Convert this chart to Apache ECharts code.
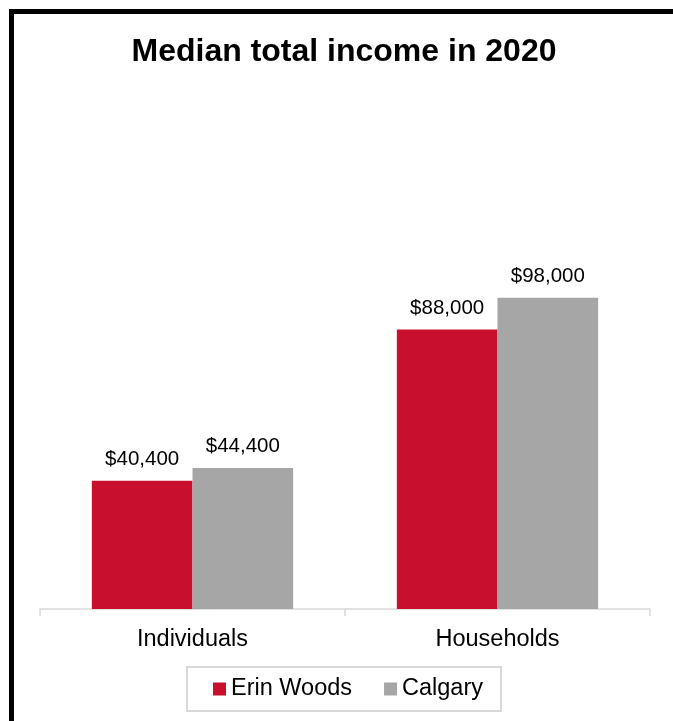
<!DOCTYPE html>
<html>
<head>
<meta charset="utf-8">
<script src="https://cdn.jsdelivr.net/npm/echarts@6/dist/echarts.min.js"></script>
<style>
html,body{margin:0;padding:0;background:#fff;}
#chart{width:673px;height:721px;}
</style>
</head>
<body>
<div id="chart"></div>
<script>
const categories = ['Individuals', 'Households'];
const seriesNames = ['Erin Woods', 'Calgary'];
const erinWoods = [40400, 88000];
const calgary = [44400, 98000];
const titleText = 'Median total income in 2020';

const FONT = '"Liberation Sans", Arial, sans-serif';
const fmt = v => '$' + v.toString().replace(/\B(?=(\d{3})+(?!\d))/g, ',');

const chart = echarts.init(document.getElementById('chart'), null, {renderer: 'canvas'});
const labelCfg = {
  show: true, position: 'top', distance: 11,
  color: '#000', fontSize: 20.5, fontFamily: FONT,
  formatter: p => fmt(p.value)
};
chart.setOption({
  animation: false,
  backgroundColor: '#fff',
  title: {
    text: titleText,
    left: 339, top: 31, textAlign: 'center',
    textStyle: {fontSize: 32, fontWeight: 'bold', color: '#000', fontFamily: FONT}
  },
  graphic: [{
    type: 'rect', silent: true, z: 100,
    shape: {x: 11.5, y: 11.5, width: 720, height: 760},
    style: {fill: 'none', stroke: '#000', lineWidth: 5}
  }],
  legend: {
    data: seriesNames,
    left: 187, top: 667,
    orient: 'horizontal',
    padding: [10, 18, 10, 26],
    itemGap: 32, itemWidth: 13, itemHeight: 13,
    borderColor: '#d9d9d9', borderWidth: 2,
    icon: 'rect',
    textStyle: {fontSize: 23.5, color: '#000', fontFamily: FONT}
  },
  grid: {left: 40, right: 23, top: 228, bottom: 112, containLabel: false},
  xAxis: {
    type: 'category', data: categories,
    axisLine: {show: true, lineStyle: {color: '#d9d9d9', width: 1.5}},
    axisTick: {show: true, length: 7, lineStyle: {color: '#d9d9d9', width: 1.5}},
    axisLabel: {color: '#000', fontSize: 23.5, fontFamily: FONT, margin: 19}
  },
  yAxis: {
    type: 'value', min: 0, max: 120000, show: false,
    splitLine: {show: false}
  },
  series: [
    {name: seriesNames[0], type: 'bar', data: erinWoods, barGap: '0%', barCategoryGap: '34%',
     itemStyle: {color: '#C8102E'}, label: labelCfg},
    {name: seriesNames[1], type: 'bar', data: calgary, barGap: '0%', barCategoryGap: '34%',
     itemStyle: {color: '#A6A6A6'}, label: labelCfg}
  ]
});
</script>
</body>
</html>
